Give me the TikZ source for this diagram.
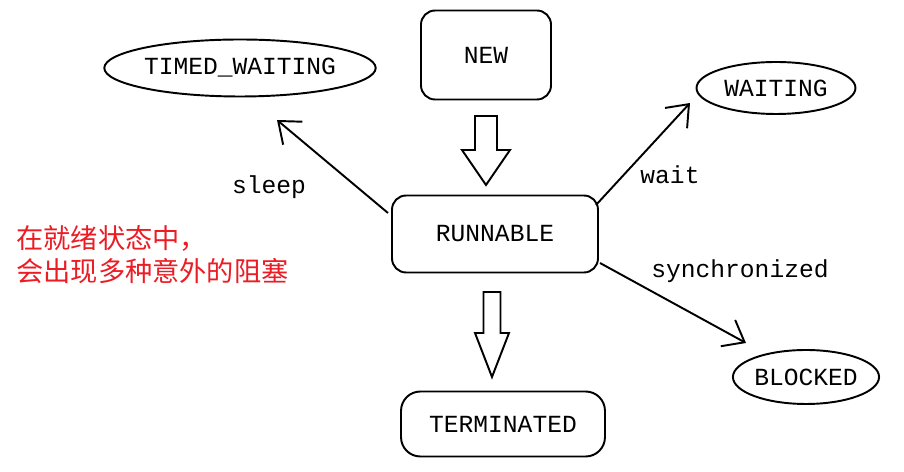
\documentclass[tikz,border=0pt]{standalone}
\usepackage{fontspec}
\setmainfont{Liberation Mono}
\newfontfamily\cjk{Noto Sans CJK SC}
\usepackage{tikz}
\usetikzlibrary{arrows.meta, calc, positioning, shapes.geometric}
\usepackage{xcolor}
\definecolor{notered}{RGB}{235,28,36}

\tikzset{
  state/.style={draw, line width=1.1pt, rounded corners=8pt, inner sep=0pt,
    font=\fontsize{14}{16}\selectfont},
  ovalstate/.style={draw, ellipse, line width=1.1pt, inner sep=0pt,
    font=\fontsize{14}{16}\selectfont},
  trans/.style={line width=1.1pt,
    -{Straight Barb[length=3.8mm, width=6mm, line width=1.1pt]}},
  translabel/.style={font=\fontsize{14}{16}\selectfont},
  blockarrow/.style={draw, line width=1.1pt, fill=white, line join=miter}
}

\begin{document}
\begin{tikzpicture}[x=0.02cm, y=-0.02cm]
    \useasboundingbox (0,0) rectangle (904,472);

    % 状态
    \node[state, minimum width=2.6cm, minimum height=1.78cm] (new) at (486,55) {NEW};
    \node[state, minimum width=4.12cm, minimum height=1.54cm] (run) at (495,234) {RUNNABLE};
    \node[state, rounded corners=11pt, minimum width=4.08cm, minimum height=1.3cm] (term) at (503,424) {TERMINATED};
    \node[ovalstate, minimum width=5.16cm, minimum height=1.14cm] (timed) at (240,68) {TIMED\_WAITING};
    \node[ovalstate, minimum width=3.18cm, minimum height=1.04cm] (waiting) at (776,88) {WAITING};
    \node[ovalstate, minimum width=2.92cm, minimum height=1.08cm] (blocked) at (806,377) {BLOCKED};

    % 空心箭头
    \foreach \cx/\ty/\hy/\tipy/\sw/\hw in {486/116/150/185/11/24, 492/292/333/377/8.5/17} {
        \draw[blockarrow] (\cx-\sw,\ty) -- (\cx+\sw,\ty) -- (\cx+\sw,\hy) -- (\cx+\hw,\hy)
            -- (\cx,\tipy) -- (\cx-\hw,\hy) -- (\cx-\sw,\hy) -- cycle;
    }

    % 转换
    \coordinate (sleepA) at (388,213);
    \coordinate (sleepB) at (277,120);
    \coordinate (waitA) at (596,205);
    \coordinate (waitB) at (690,103);
    \coordinate (syncA) at (600,263);
    \coordinate (syncB) at (746,343);
    \draw[trans] (sleepA) -- (sleepB);
    \draw[trans] (waitA) -- (waitB);
    \draw[trans] (syncA) -- (syncB);

    \node[translabel] (lsleep) at (269,187) {sleep};
    \node[translabel] (lwait) at (670,175) {wait};
    \node[translabel] (lsync) at (740,271) {synchronized};

    % 说明
    \node[notered, anchor=west, align=left, inner sep=0pt,
          font=\cjk\fontsize{15.5}{18.7}\selectfont] (note) at (16,255)
        {在就绪状态中，\\会出现多种意外的阻塞};
\end{tikzpicture}
\end{document}
